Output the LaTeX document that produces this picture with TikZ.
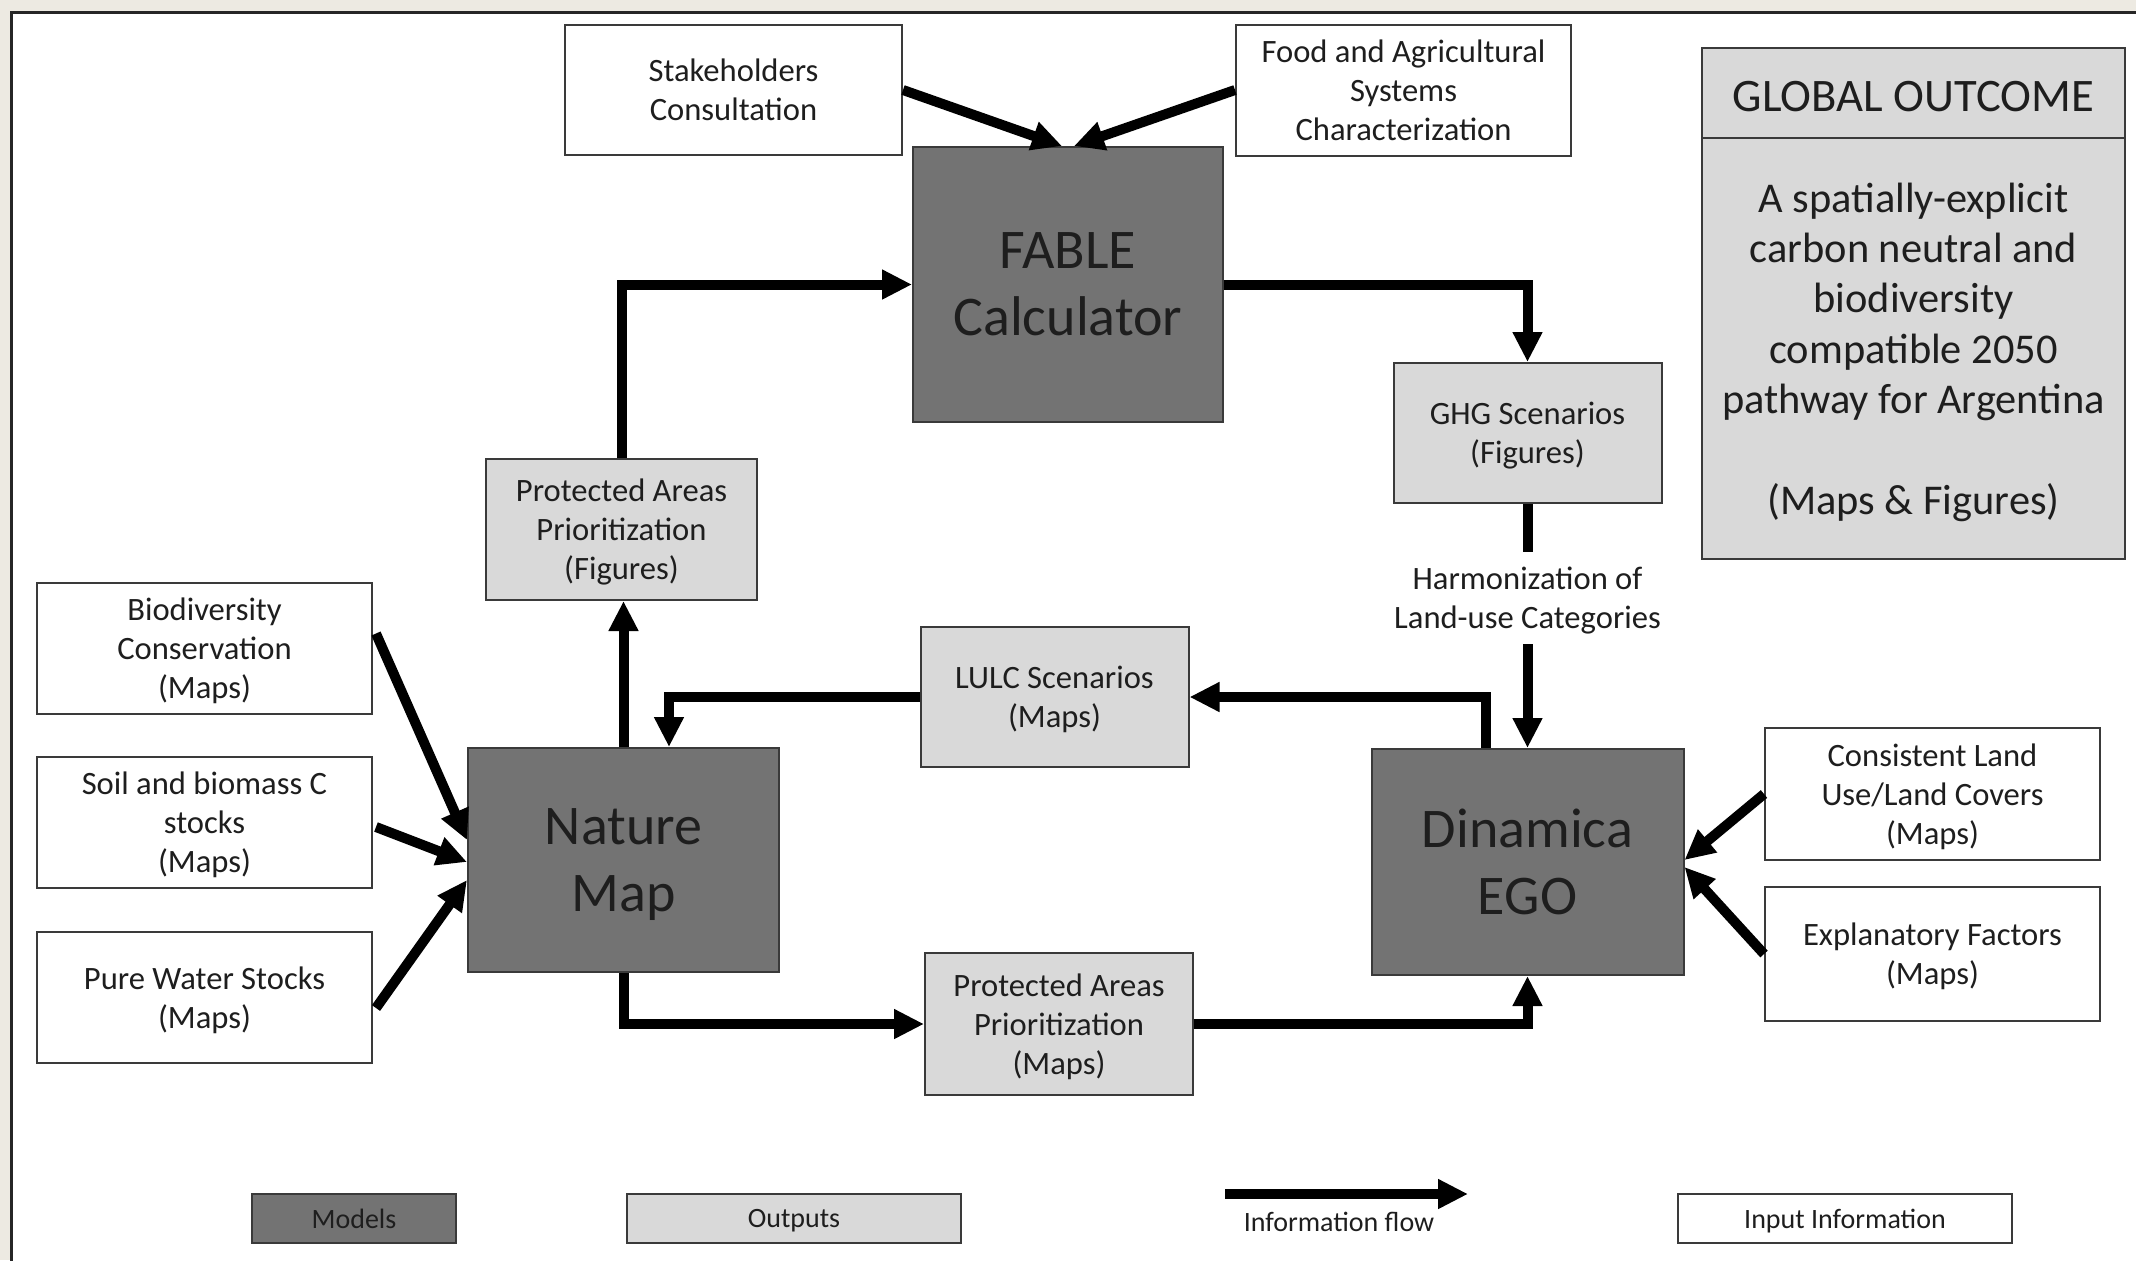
\documentclass[tikz,border=0pt]{standalone}
\usepackage{fontspec}
\setmainfont{Carlito}
\usetikzlibrary{arrows.meta,calc}
\definecolor{modelgray}{HTML}{737373}
\definecolor{outgray}{HTML}{D9D9D9}
\definecolor{edgegray}{HTML}{3A3A3A}
\definecolor{txt}{HTML}{1E1E1E}
\definecolor{beige}{HTML}{EDEAE2}
\tikzset{
 basebox/.style={draw=edgegray, line width=1pt, inner sep=0pt, align=center, text depth=0pt, text=txt, font=\fontsize{16.3pt}{19.5pt}\selectfont},
 inbox/.style={basebox, fill=white},
 outbox/.style={basebox, fill=outgray},
 modelbox/.style={basebox, fill=modelgray, font=\fontsize{28pt}{33.5pt}\selectfont},
 legbox/.style={basebox, font=\fontsize{14pt}{17pt}\selectfont, minimum height=24.5pt},
 flow/.style={line width=5pt, draw=black, -{Triangle[length=15pt,width=14pt]}},
 flowline/.style={line width=5pt, draw=black},
}
\begin{document}
\begin{tikzpicture}[x=0.5pt,y=-0.5pt]
\useasboundingbox (0,0) rectangle (2136,1260);
\fill[beige] (0,0) rectangle (2136,1260);
\begin{scope}
\clip (0,0) rectangle (2136,1260);
\draw[line width=1.5pt, draw=black!85, fill=white] (11.5,12.5) rectangle (2160,1290);
\end{scope}

% input boxes
\node[inbox, minimum width=168.5pt, minimum height=65pt] (stake) at (733.5,90) {Stakeholders\\Consultation};
\node[inbox, minimum width=167.5pt, minimum height=65.5pt] (food) at (1403.5,90) {Food and Agricultural\\Systems\\Characterization};
\node[inbox, minimum width=167.5pt, minimum height=65.5pt] (bio) at (204.5,648.5) {Biodiversity\\Conservation\\(Maps)};
\node[inbox, minimum width=167.5pt, minimum height=65.5pt] (soil) at (204.5,822.5) {Soil and biomass C\\stocks\\(Maps)};
\node[inbox, minimum width=167.5pt, minimum height=65.5pt] (water) at (204.5,997.5) {Pure Water Stocks\\(Maps)};
\node[inbox, minimum width=167.5pt, minimum height=66pt] (cons) at (1932.5,794) {Consistent Land\\Use/Land Covers\\(Maps)};
\node[inbox, minimum width=167.5pt, minimum height=67pt] (expl) at (1932.5,954) {Explanatory Factors\\(Maps)};

% models
\node[modelbox, minimum width=155pt, minimum height=137.5pt] (fable) at (1068,284.5) {FABLE\\Calculator};
\node[modelbox, minimum width=155.5pt, minimum height=112pt] (nature) at (623.5,860) {Nature\\Map};
\node[modelbox, minimum width=156pt, minimum height=113pt] (dinamica) at (1527.5,862) {Dinamica\\EGO};

% outputs
\node[outbox, minimum width=134pt, minimum height=70pt] (ghg) at (1527.5,433) {GHG Scenarios\\(Figures)};
\node[outbox, minimum width=135.5pt, minimum height=70.5pt] (pafig) at (621.5,529.5) {Protected Areas\\Prioritization\\(Figures)};
\node[outbox, minimum width=134pt, minimum height=70pt] (lulc) at (1054.5,697) {LULC Scenarios\\(Maps)};
\node[outbox, minimum width=134pt, minimum height=71pt] (pamap) at (1059,1024) {Protected Areas\\Prioritization\\(Maps)};

% harmonization label
\node[inner sep=0pt, minimum height=46pt, align=center, text depth=0pt, text=txt, font=\fontsize{16.3pt}{19.5pt}\selectfont] (harm) at (1527.5,598) {Harmonization of\\Land-use Categories};

% global outcome
\node[outbox, minimum width=211.5pt, minimum height=45pt, font=\fontsize{23.3pt}{28pt}\selectfont, text height=18pt] (ghead) at (1913.5,93) {GLOBAL OUTCOME};
\node[outbox, minimum width=211.5pt, minimum height=210.5pt, font=\fontsize{21.2pt}{25.2pt}\selectfont] (gbody) at (1913.5,348.5) {A spatially-explicit\\carbon neutral and\\biodiversity\\compatible 2050\\pathway for Argentina\\[25.2pt](Maps \& Figures)};

% connectors
\draw[flow] (stake.east) -- ($(fable.north)+(-6,0)$);
\draw[flow] (food.west) -- ($(fable.north)+(6,0)$);
\draw[flow] (fable.east) -| (ghg.north);
\draw[flowline] (ghg.south) -- (harm.north);
\draw[flow] (harm.south) -- (dinamica.north);
\draw[flow] ($(dinamica.north)+(-42,0)$) |- (lulc.east);
\draw[flow] (lulc.west) -| ($(nature.north)+(45.5,0)$);
\draw[flow] (nature.north) -- (nature.north |- pafig.south);
\draw[flow] (pafig.north) |- (fable.west);
\draw[flow] (nature.south) |- (pamap.west);
\draw[flow] (pamap.east) -| (dinamica.south);
\draw[flow] ($(bio.east)+(3,-15)$) -- ($(nature.west)+(0,-20)$);
\draw[flow] ($(soil.east)+(3,4.5)$) -- ($(nature.west)+(0,2)$);
\draw[flow] ($(water.east)+(3,10.5)$) -- ($(nature.west)+(0,20)$);
\draw[flow] (cons.west) -- ($(dinamica.east)+(0,-2)$);
\draw[flow] (expl.west) -- ($(dinamica.east)+(0,5)$);

% legend
\node[legbox, fill=modelgray, minimum width=102pt] (lmod) at (354,1218.5) {Models};
\node[legbox, fill=outgray, minimum width=167pt] (lout) at (794,1218.5) {Outputs};
\node[legbox, fill=white, minimum width=167pt] (linp) at (1845,1218.5) {Input Information};
\coordinate (la) at (1225,1194);
\coordinate (lb) at (1468,1194);
\draw[flow] (la) -- (lb);
\node[inner sep=0pt, text=txt, font=\fontsize{14pt}{17pt}\selectfont] (lflow) at (1339,1222) {Information flow};
\end{tikzpicture}
\end{document}
